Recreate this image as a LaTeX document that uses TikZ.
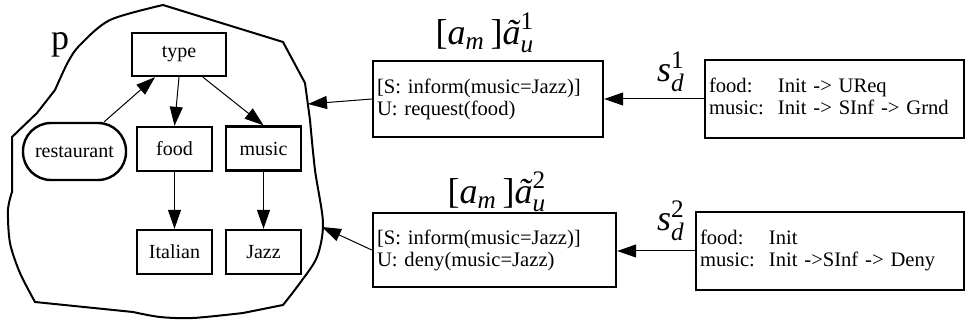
\documentclass[tikz,border=0pt]{standalone}
\usepackage{amsmath}
\usepackage{fontspec}
\setmainfont{Liberation Serif}
\usetikzlibrary{arrows.meta,calc}
\begin{document}
\begin{tikzpicture}[x=0.5pt,y=-0.5pt,
  every node/.style={font=\fontsize{10}{11}\selectfont},
  gbox/.style={draw, line width=1.2pt, inner sep=0pt},
  bigbox/.style={draw, line width=1.2pt, inner xsep=2pt, inner ysep=0pt, align=left, font=\fontsize{10.3}{11}\selectfont},
  conn/.style={line width=0.5pt, -{Triangle[length=9.5pt,width=6.5pt]}},
  biglabel/.style={font=\fontsize{18}{20}\selectfont, inner sep=0pt}]
\useasboundingbox (0,0) rectangle (966,326);
% blob
\draw[line width=1pt]
  plot[smooth, tension=0.5] coordinates {(35,302) (20,273) (10,243) (8,210) (12,192)}
  -- (12,137) -- (37,113)
  -- plot[smooth, tension=0.5] coordinates {(55,90) (68,62) (80,45) (110,20) (163,5)}
  -- (283,42) -- (305,83)
  -- plot[smooth, tension=0.5] coordinates {(310,120) (315,170) (323,223) (317,257) (300,283) (283,305)}
  -- plot[smooth, tension=0.5] coordinates {(243,313) (193,318) (160,317) (133,312)}
  -- cycle;
\coordinate (bl1) at (308,104);
\coordinate (bl2) at (322,227);
\node[biglabel] (p) at (60,45) {p};
% graph nodes
\node[gbox, minimum width=47pt, minimum height=21.5pt] (type) at (179,54.5) {type};
\node[gbox, minimum width=51.5pt, minimum height=28.5pt, rounded corners=14pt] (rest) at (74.5,151.5) {restaurant};
\node[gbox, minimum width=37.5pt, minimum height=22pt] (food) at (174.5,149) {food};
\node[gbox, minimum width=37.5pt, minimum height=22pt] (music) at (263.5,148.5) {music};
\node[gbox, minimum width=37.5pt, minimum height=22pt] (italian) at (174.5,252) {Italian};
\node[gbox, minimum width=37.5pt, minimum height=22pt] (jazz) at (263.5,252) {Jazz};
\draw[conn] (rest.45) -- ($(type.south)+(-12pt,0)$);
\draw[conn] (type.south) -- (food.north);
\draw[conn] ($(type.south)+(12pt,0)$) -- (music.north);
\draw[conn] (food) -- (italian);
\draw[conn] (music) -- (jazz);
% boxes
\node[bigbox, text width=111pt, minimum height=38pt] (b1) at (488,99)
  {[S: inform(music=Jazz)]\\U: request(food)};
\node[bigbox, text width=117.5pt, minimum height=37pt] (b2) at (494.5,250)
  {[S: inform(music=Jazz)]\\U: deny(music=Jazz)};
\node[bigbox, text width=125.5pt, minimum height=39pt] (b3) at (834.5,99)
  {\begin{tabular}{@{}l@{\hspace{7pt}}l@{}}food: & Init -> UReq\\ music: & Init -> SInf -> Grnd\end{tabular}};
\node[bigbox, text width=130pt, minimum height=39pt] (b4) at (830,251)
  {\begin{tabular}{@{}l@{\hspace{7pt}}l@{}}food: & Init\\ music: & Init ->SInf -> Deny\end{tabular}};
\draw[conn] (b1.west) -- (bl1);
\draw[conn] (b2.west) -- (bl2);
\draw[conn] (b3) -- (b1);
\draw[conn] (b4.west) -- (b2.east |- b4.west);
% labels
\node[biglabel] (l1) at (485,33) {$\text{[}\textit{a}_{\textit{m}}\,\text{]}\textit{ã}^{\text{1}}_{\textit{u}}$};
\node[biglabel] (l2) at (497,192) {$\text{[}\textit{a}_{\textit{m}}\,\text{]}\textit{ã}^{\text{2}}_{\textit{u}}$};
\node[biglabel] (s1) at (671,72) {$\textit{s}^{\text{1}}_{\textit{d}}$};
\node[biglabel] (s2) at (671,221) {$\textit{s}^{\text{2}}_{\textit{d}}$};
\end{tikzpicture}
\end{document}
